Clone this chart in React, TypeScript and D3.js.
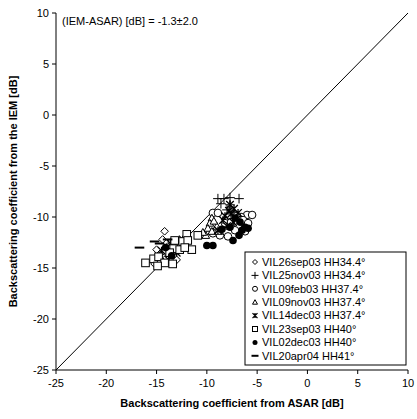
import React from 'react';
import * as d3 from 'd3';

const tickValues = [-25, -20, -15, -10, -5, 0, 5, 10];
const seriesLabels = [
  'VIL26sep03 HH34.4°',
  'VIL25nov03 HH34.4°',
  'VIL09feb03 HH37.4°',
  'VIL09nov03 HH37.4°',
  'VIL14dec03 HH37.4°',
  'VIL23sep03 HH40°',
  'VIL02dec03 HH40°',
  'VIL20apr04 HH41°',
];
const seriesMarkers = ['diamond', 'plus', 'circle', 'triangle', 'star', 'square', 'dot', 'dash'];

// ASAR (x) and IEM (y) values per acquisition
const sep26Asar = [-14.2, -15.2, -14.6, -13.9, -13.5, -14.0, -13.2, -15.0, -12.8, -14.4, -13.0];
const sep26Iem = [-11.4, -14.6, -13.6, -12.9, -12.4, -14.0, -13.0, -13.2, -12.6, -12.2, -14.2];
const nov25Asar = [-8.9, -8.3, -7.7, -6.8, -7.7, -8.0, -7.4, -8.6];
const nov25Iem = [-8.2, -8.2, -8.1, -8.2, -8.8, -9.3, -9.5, -8.7];
const feb09Asar = [-9.4, -8.9, -6.0, -5.5, -6.6, -6.9, -6.2, -7.2, -7.9, -8.7, -9.4, -7.0, -8.2, -6.4, -7.6, -5.9];
const feb09Iem = [-9.6, -9.6, -9.8, -9.8, -10.0, -11.0, -11.4, -11.3, -11.9, -11.8, -11.6, -9.9, -10.6, -10.3, -10.5, -10.6];
const nov09Asar = [-9.5, -9.7, -9.9, -10.1, -9.5, -9.0, -9.3, -10.4, -8.8];
const nov09Iem = [-10.1, -10.6, -11.1, -11.8, -11.4, -10.9, -10.4, -11.5, -11.4];
const dec14Asar = [-7.7, -7.3, -7.6, -7.0, -7.4, -8.2, -8.0, -8.9, -7.8, -6.9, -8.4, -12.6, -13.6, -13.0, -14.5, -13.8, -12.4];
const dec14Iem = [-8.8, -9.2, -9.7, -10.2, -10.5, -9.9, -10.9, -11.3, -9.4, -9.6, -10.3, -12.8, -12.6, -13.5, -13.3, -14.2, -12.2];
const sep23Asar = [-16.1, -15.3, -12.0, -10.9, -13.2, -12.4, -11.9, -13.3, -12.7, -11.5, -14.8, -14.2, -13.7, -12.2, -14.9, -13.4];
const sep23Iem = [-14.5, -14.1, -11.7, -11.8, -12.3, -12.4, -12.3, -13.1, -13.2, -13.2, -13.9, -14.5, -13.5, -13.0, -14.8, -14.6];
const dec02Asar = [-10.0, -9.4, -7.4, -6.2, -5.9, -6.7, -7.2, -6.5, -7.7, -8.5, -6.8, -13.5, -14.1];
const dec02Iem = [-12.8, -12.8, -12.3, -11.0, -11.1, -10.5, -10.1, -11.3, -11.0, -11.2, -11.8, -13.8, -13.0];
const apr20Asar = [-16.7, -15.2, -14.7, -13.9];
const apr20Iem = [-13.0, -12.4, -12.6, -12.2];

const seriesX = [sep26Asar, nov25Asar, feb09Asar, nov09Asar, dec14Asar, sep23Asar, dec02Asar, apr20Asar];
const seriesY = [sep26Iem, nov25Iem, feb09Iem, nov09Iem, dec14Iem, sep23Iem, dec02Iem, apr20Iem];

const FONT = 'Arial, "Liberation Sans", sans-serif';

function Marker({ type, cx, cy, s }: { type: string; cx: number; cy: number; s: number }) {
  const common = { stroke: '#000', strokeWidth: 1, fill: 'none' } as any;
  switch (type) {
    case 'diamond':
      return <path d={`M${cx},${cy - s}L${cx + s},${cy}L${cx},${cy + s}L${cx - s},${cy}Z`} {...common} fill="#fff" />;
    case 'plus':
      return <path d={`M${cx - s - 1},${cy}H${cx + s + 1}M${cx},${cy - s - 1}V${cy + s + 1}`} {...common} />;
    case 'circle':
      return <circle cx={cx} cy={cy} r={s} {...common} fill="#fff" />;
    case 'triangle':
      return <path d={`M${cx},${cy - s}L${cx + s},${cy + s * 0.8}L${cx - s},${cy + s * 0.8}Z`} {...common} fill="#fff" />;
    case 'star':
      return <path d={`M${cx - s},${cy - s}L${cx + s},${cy + s}M${cx + s},${cy - s}L${cx - s},${cy + s}M${cx},${cy - s}V${cy + s}`} {...common} strokeWidth={1.3} />;
    case 'square':
      return <rect x={cx - s} y={cy - s} width={2 * s} height={2 * s} {...common} fill="#fff" />;
    case 'dot':
      return <circle cx={cx} cy={cy} r={s} fill="#000" />;
    case 'dash':
      return <path d={`M${cx - s - 1},${cy}H${cx + s + 1}`} stroke="#000" strokeWidth={2} />;
    default:
      return null;
  }
}

export default function App() {
  const W = 417, H = 419;
  const x = d3.scaleLinear().domain([-25, 10]).range([56, 408]);
  const y = d3.scaleLinear().domain([-25, 10]).range([370, 13]);
  const lx = 245, ly = 252, lw = 161, lh = 113, rowH = 13.4;
  const ms = 3.8;

  return (
    <svg width={W} height={H} style={{ position: 'absolute', left: 0, top: 0 }} fontFamily={FONT}>
      <rect x={0} y={0} width={W} height={H} fill="#fff" />
      {/* 1:1 line */}
      <line x1={x(-25)} y1={y(-25)} x2={x(10)} y2={y(10)} stroke="#000" strokeWidth={1} />
      {/* axes */}
      <line x1={x(-25)} y1={y(-25)} x2={x(10)} y2={y(-25)} stroke="#000" />
      <line x1={x(-25)} y1={y(-25)} x2={x(-25)} y2={y(10)} stroke="#000" />
      {tickValues.map((t) => (
        <g key={'xt' + t}>
          <line x1={x(t)} x2={x(t)} y1={y(-25)} y2={y(-25) + 4} stroke="#000" />
          <text x={x(t)} y={y(-25) + 17} fontSize={11} textAnchor="middle">{t}</text>
        </g>
      ))}
      {tickValues.map((t) => (
        <g key={'yt' + t}>
          <line x1={x(-25) - 4} x2={x(-25)} y1={y(t)} y2={y(t)} stroke="#000" />
          <text x={x(-25) - 7} y={y(t)} dy="0.35em" fontSize={11} textAnchor="end">{t}</text>
        </g>
      ))}
      <text x={(x(-25) + x(10)) / 2} y={407} fontSize={11} fontWeight="bold" textAnchor="middle">
        Backscattering coefficient from ASAR [dB]
      </text>
      <text transform={`translate(17,${(y(-25) + y(10)) / 2}) rotate(-90)`} fontSize={11} fontWeight="bold" textAnchor="middle">
        Backscattering coefficient from the IEM [dB]
      </text>
      <text x={x(-25) + 6} y={y(10) + 12} fontSize={11}>(IEM-ASAR) [dB] = -1.3±2.0</text>
      {/* points */}
      {seriesX.map((xs, si) => (
        <g key={'s' + si}>
          {xs.map((v, i) => (
            <Marker key={i} type={seriesMarkers[si]} cx={x(v)} cy={y(seriesY[si][i])} s={ms} />
          ))}
        </g>
      ))}
      {/* legend */}
      <rect x={lx} y={ly} width={lw} height={lh} fill="#fff" stroke="#000" />
      {seriesLabels.map((lab, i) => (
        <g key={'l' + i}>
          <Marker type={seriesMarkers[i]} cx={lx + 10} cy={ly + 10 + i * rowH} s={2.5} />
          <text x={lx + 17} y={ly + 10 + i * rowH} dy="0.35em" fontSize={11}>{lab}</text>
        </g>
      ))}
    </svg>
  );
}
